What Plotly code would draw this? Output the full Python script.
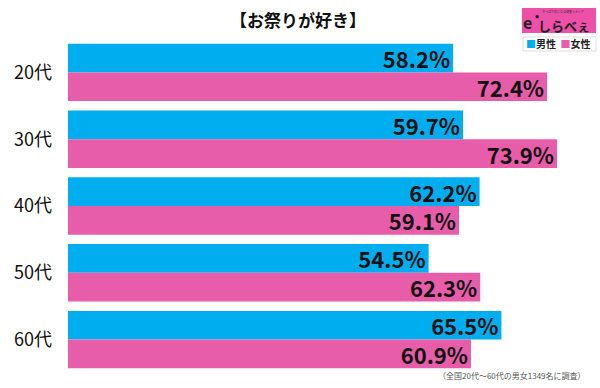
import plotly.graph_objects as go

categories = ["20代", "30代", "40代", "50代", "60代"]
male = [58.2, 59.7, 62.2, 54.5, 65.5]
female = [72.4, 73.9, 59.1, 62.3, 60.9]
series_names = ["男性", "女性"]
title_text = "【お祭りが好き】"
note_text = "（全国20代～60代の男女1349名に調査）"

BLUE = "#00AEEF"
PINK = "#E85DA9"
FONT = "Noto Sans CJK JP"

L, T, B = 68, 39, 15
PW, PH = 600 - L, 388 - T - B


def px(x):
    return (x - L) / PW


def py(y):
    return (388 - B - y) / PH


fig = go.Figure()
for name, vals, col in [(series_names[0], male, BLUE), (series_names[1], female, PINK)]:
    fig.add_trace(go.Bar(
        y=categories, x=vals, name=name, orientation="h",
        marker=dict(color=col, line=dict(width=0)),
        text=[f"{v:.1f}%" for v in vals],
        textposition="inside", insidetextanchor="end",
        textfont=dict(family=FONT, size=22, color="#111111", weight="bold"),
        constraintext="none", cliponaxis=False,
    ))

fig.update_layout(
    width=600, height=388,
    margin=dict(l=L, r=0, t=T, b=B, autoexpand=False),
    paper_bgcolor="white", plot_bgcolor="white",
    barmode="group", bargap=0.14, bargroupgap=0,
    showlegend=False,
    font=dict(family=FONT),
    xaxis=dict(range=[0, 80.4], visible=False, fixedrange=True, automargin=False),
    yaxis=dict(autorange="reversed", showgrid=False, zeroline=False, showline=False,
               ticks="", ticklabelstandoff=15, automargin=False,
               tickfont=dict(family=FONT, size=18, color="#111111")),
)


def ann(text, x, y, size, color="#111111", bold=False, xanchor="center"):
    fig.add_annotation(text=text, xref="paper", yref="paper", x=px(x), y=py(y),
                       xanchor=xanchor, yanchor="middle", showarrow=False,
                       font=dict(family=FONT, size=size, color=color,
                                 weight="bold" if bold else "normal"))


ann(title_text, 298, 20, 17, bold=True)

# logo box
fig.add_shape(type="rect", xref="paper", yref="paper",
              x0=px(522), x1=px(596), y0=py(33), y1=py(8),
              fillcolor="#EE4FA9", line=dict(width=0), layer="above")
ann("しらべぇ", 564, 25, 13, color="#222222", bold=True)
ann("ė", 531, 22, 16, color="#222222", bold=True)
ann("やっぱり気になる調査メディア", 563, 12, 3, color="#333333")

# legend box
fig.add_shape(type="rect", xref="paper", yref="paper",
              x0=px(523), x1=px(596), y0=py(51), y1=py(37),
              fillcolor="white", line=dict(width=1, color="#DDDDDD"), layer="above")
ann(f"<span style='color:{BLUE}'>■</span>{series_names[0]}  "
    f"<span style='color:{PINK}'>■</span>{series_names[1]}",
    558, 44, 10, color="#222222", bold=True)

ann(note_text, 588, 376, 8, color="#555555", xanchor="right")

fig.write_html("out.html", config={"displayModeBar": False},
               post_script="document.body.style.margin='0';")
